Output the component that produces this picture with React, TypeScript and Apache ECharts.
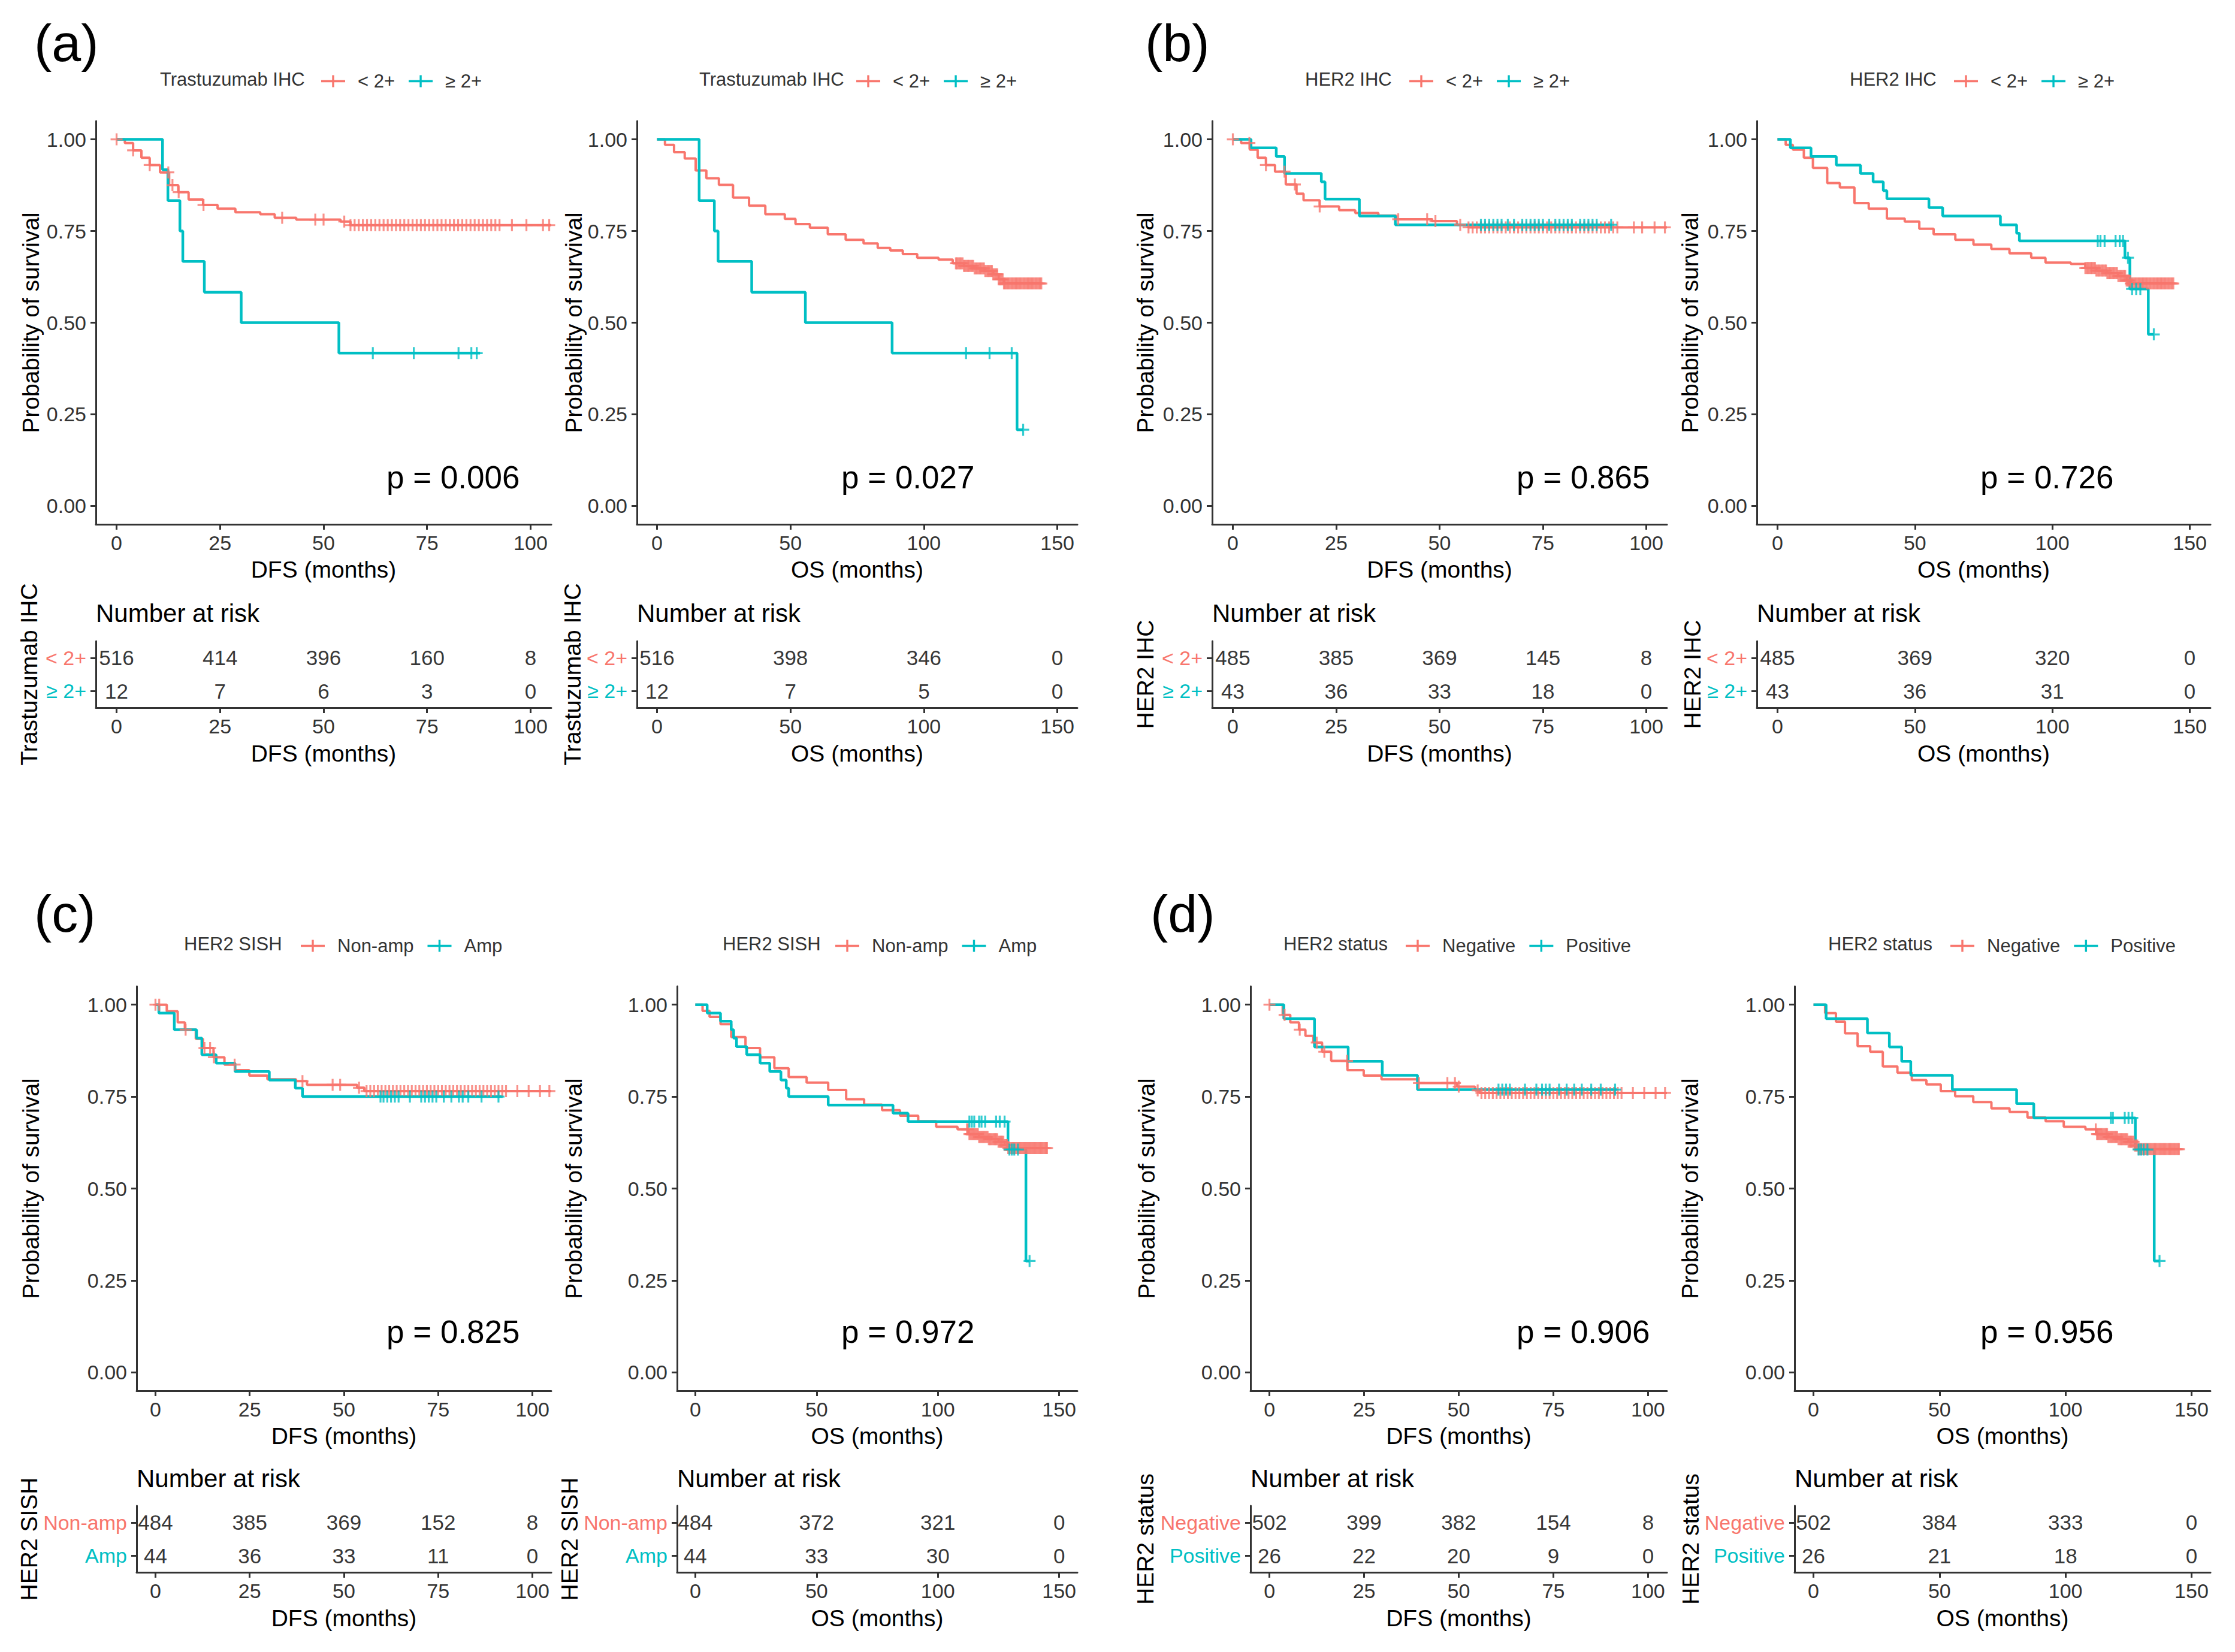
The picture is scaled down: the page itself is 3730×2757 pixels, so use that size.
import React, { useEffect, useRef } from 'react';
import * as echarts from 'echarts';

const RED = '#F8766D';
const CYAN = '#00BFC4';
const FONT = 'Liberation Sans, Arial, Helvetica, sans-serif';
const AXIS = '#333333';

const dfsTicks = [0, 25, 50, 75, 100];
const osTicks = [0, 50, 100, 150];
const yTicks = [0, 0.25, 0.5, 0.75, 1];

// ---------- group labels / titles ----------
const ihcGroups = ['< 2+', '≥ 2+'];
const sishGroups = ['Non-amp', 'Amp'];
const statusGroups = ['Negative', 'Positive'];
const legendTitles = ['Trastuzumab IHC', 'HER2 IHC', 'HER2 SISH', 'HER2 status'];
const pValues = ['p = 0.006', 'p = 0.027', 'p = 0.865', 'p = 0.726', 'p = 0.825', 'p = 0.972', 'p = 0.906', 'p = 0.956'];

// dense censoring of the large (red) group in the OS plots
const osLowCensTail = [112, 112.5, 113, 113.5, 114, 114.5, 115, 115.5, 116, 116.5, 117, 117.5, 118, 118.5, 119, 119.5, 120, 120.5, 121, 121.5, 122, 122.5, 123, 123.5, 124, 124.5, 125, 125.5, 126, 126.5, 127, 127.5, 128, 128.5, 129, 129.5, 130, 130.5, 131, 131.5, 132, 132.5, 133, 133.5, 134, 134.5, 135, 135.5, 136, 136.5, 137, 137.5, 138, 138.5, 139, 139.5, 140, 140.5, 141, 141.5, 142, 142.5, 143, 143.5, 144];

// ---------- (a) Trastuzumab IHC ----------
const aDfsLow = [[0, 1], [2, 0.99], [4, 0.97], [6, 0.95], [8, 0.93], [10.5, 0.91], [12.7, 0.875], [14.9, 0.856], [17.4, 0.836], [20.9, 0.821], [24.4, 0.811], [28.7, 0.801], [34.7, 0.796], [38.2, 0.786], [43.4, 0.781], [54.1, 0.776], [56.5, 0.766], [105, 0.766]];
const aDfsHigh = [[0, 1], [11.1, 0.917], [12.4, 0.833], [15.3, 0.75], [16, 0.667], [21.2, 0.583], [30.1, 0.5], [53.7, 0.417], [87.8, 0.417]];
const aDfsLowCens = [0, 4, 8, 12.5, 13.5, 15, 21, 40, 48, 50, 55, 56.5, 57.5, 58.5, 59.5, 60.5, 61.5, 62.5, 63.5, 64.5, 65.5, 66.5, 67.5, 68.5, 69.5, 70.5, 71.5, 72.5, 73.5, 74.5, 75.5, 76.5, 77.5, 78.5, 79.5, 80.5, 81.5, 82.5, 83.5, 84.5, 85.5, 86.5, 87.5, 88.5, 89.5, 90.5, 91.5, 92.5, 95.5, 99, 103, 104.5];
const aDfsHighCens = [61.9, 71.8, 82.6, 85.7, 87];
const aOsLow = [[0, 1], [3, 0.985], [6.4, 0.965], [10.4, 0.948], [14.5, 0.915], [18.5, 0.894], [23.2, 0.876], [28.5, 0.841], [34.5, 0.819], [40.6, 0.796], [47.9, 0.783], [51.9, 0.769], [57.3, 0.759], [64, 0.741], [70.7, 0.726], [77.4, 0.716], [82.7, 0.704], [87.4, 0.697], [92.1, 0.687], [97.5, 0.677], [105.5, 0.672], [110.8, 0.662], [115, 0.655], [119, 0.648], [123, 0.641], [126, 0.632], [128, 0.618], [130, 0.607], [144, 0.607]];
const aOsHigh = [[0, 1], [15.8, 0.833], [21.5, 0.75], [22.9, 0.667], [35.5, 0.583], [55.6, 0.5], [88.1, 0.417], [134.9, 0.208], [137.2, 0.208]];
const aOsLowCens = osLowCensTail;
const aOsHighCens = [115.8, 124.6, 132.9, 137.2];
const aDfsRiskLow = [516, 414, 396, 160, 8];
const aDfsRiskHigh = [12, 7, 6, 3, 0];
const aOsRiskLow = [516, 398, 346, 0];
const aOsRiskHigh = [12, 7, 5, 0];

// ---------- (b) HER2 IHC ----------
const bDfsLow = [[0, 1], [2, 0.99], [4.1, 0.972], [6, 0.95], [8, 0.93], [10.2, 0.912], [12.8, 0.877], [15.4, 0.852], [17.1, 0.834], [21, 0.817], [25.7, 0.807], [29.6, 0.799], [35.2, 0.792], [39.5, 0.782], [48.2, 0.777], [54.2, 0.767], [57, 0.76], [105, 0.76]];
const bDfsHigh = [[0, 1], [4.4, 0.977], [10.5, 0.953], [12.5, 0.907], [21.4, 0.884], [22.3, 0.837], [30.6, 0.791], [39.3, 0.767], [91.7, 0.767]];
const bDfsLowCens = [0, 4, 8, 12.5, 15, 21, 40, 47, 49, 55, 57, 58, 59, 60, 61, 62, 63, 64, 65, 66, 67, 68, 69, 70, 71, 72, 73, 74, 75, 76, 77, 78, 79, 80, 81, 82, 83, 84, 85, 86, 87, 88, 89, 90, 91, 92, 93, 97, 99, 102, 104.5];
const bDfsHighCens = [60, 61, 62, 63, 64, 65, 66.5, 68, 70, 71, 72, 73, 74, 75, 76.5, 78, 79, 80, 81, 82, 84, 85, 86, 87, 88, 91.5];
const bOsLow = [[0, 1], [3, 0.985], [5.6, 0.972], [9.6, 0.95], [12.9, 0.922], [18.1, 0.881], [22.7, 0.869], [28, 0.826], [33.2, 0.811], [39.8, 0.784], [46.3, 0.776], [51.6, 0.756], [56.8, 0.741], [64.7, 0.726], [71.3, 0.713], [77.8, 0.701], [84.4, 0.689], [92.3, 0.677], [97.5, 0.664], [106.7, 0.66], [112, 0.649], [116, 0.642], [120, 0.635], [124, 0.627], [127, 0.615], [128.5, 0.607], [144, 0.607]];
const bOsHigh = [[0, 1], [4.7, 0.977], [12.2, 0.953], [21.4, 0.93], [30.2, 0.907], [34.8, 0.884], [38.5, 0.86], [39.8, 0.838], [55.1, 0.814], [60.1, 0.791], [81.1, 0.767], [87, 0.744], [88, 0.723], [126.4, 0.677], [128.2, 0.592], [134.9, 0.468], [136.9, 0.468]];
const bOsLowCens = osLowCensTail;
const bOsHighCens = [116.5, 117.5, 119, 123, 124.5, 125.7, 127.5, 129, 130.5, 132, 136.9];
const bDfsRiskLow = [485, 385, 369, 145, 8];
const bDfsRiskHigh = [43, 36, 33, 18, 0];
const bOsRiskLow = [485, 369, 320, 0];
const bOsRiskHigh = [43, 36, 31, 0];

// ---------- (c) HER2 SISH ----------
const cDfsLow = [[0, 1], [3, 0.982], [5.9, 0.952], [7.8, 0.932], [10.7, 0.907], [12.6, 0.882], [15.4, 0.857], [18.3, 0.837], [21.1, 0.822], [24.9, 0.807], [29.7, 0.797], [37.3, 0.792], [40.2, 0.782], [53.5, 0.774], [55.4, 0.765], [105, 0.765]];
const cDfsHigh = [[0, 1], [0.9, 0.977], [5, 0.932], [10.9, 0.909], [12.3, 0.864], [16.1, 0.841], [21.1, 0.818], [30.2, 0.795], [37.1, 0.773], [39, 0.75], [92.1, 0.75]];
const cDfsLowCens = [0, 1, 8, 13, 14.5, 15.5, 21, 39, 47, 49, 54, 56, 57, 58, 59, 60, 61, 62, 63, 64, 65, 66, 67, 68, 69, 70, 71, 72, 73, 74, 75, 76, 77, 78, 79, 80, 81, 82, 83, 84, 85, 86, 87, 88, 89, 90, 91, 92, 93, 96, 99, 102, 104.5];
const cDfsHighCens = [59.7, 60.5, 61.5, 62.5, 63.5, 64.5, 67.5, 70.5, 71.5, 72.5, 73.5, 74.5, 76.5, 78.5, 80.5, 81.5, 83, 86.5, 91];
const cOsLow = [[0, 1], [3, 0.983], [5.9, 0.967], [10.4, 0.947], [14.8, 0.912], [20.7, 0.882], [26.7, 0.857], [32.6, 0.827], [38.5, 0.803], [45.9, 0.788], [54.8, 0.768], [62.2, 0.743], [69.6, 0.728], [77, 0.713], [84.4, 0.698], [91.9, 0.683], [99.3, 0.668], [108.1, 0.661], [112.6, 0.648], [117, 0.64], [121, 0.634], [125, 0.627], [127.5, 0.618], [129, 0.61], [145, 0.61]];
const cOsHigh = [[0, 1], [4.9, 0.977], [10.4, 0.955], [14.8, 0.932], [15.8, 0.909], [17, 0.886], [21.2, 0.864], [26.7, 0.841], [30.7, 0.818], [35.3, 0.795], [37.5, 0.773], [38.5, 0.75], [54.8, 0.727], [81.5, 0.705], [87.7, 0.682], [128.9, 0.606], [136.3, 0.303], [137.8, 0.303]];
const cOsLowCens = [...osLowCensTail, 144.5, 145];
const cOsHighCens = [113, 114, 115, 117, 118, 119.5, 124, 125.5, 127.5, 129.5, 130.5, 131.5, 133, 137.8];
const cDfsRiskLow = [484, 385, 369, 152, 8];
const cDfsRiskHigh = [44, 36, 33, 11, 0];
const cOsRiskLow = [484, 372, 321, 0];
const cOsRiskHigh = [44, 33, 30, 0];

// ---------- (d) HER2 status ----------
const dDfsLow = [[0, 1], [3.5, 0.972], [5.5, 0.952], [7.8, 0.932], [9.5, 0.915], [11.6, 0.897], [13.9, 0.872], [16.3, 0.847], [20.6, 0.822], [24.9, 0.807], [29.6, 0.797], [39.1, 0.787], [49.5, 0.777], [54.3, 0.767], [55.5, 0.76], [105, 0.76]];
const dDfsHigh = [[0, 1], [3.8, 0.962], [11.9, 0.885], [20.8, 0.846], [29.8, 0.808], [39.1, 0.769], [91.7, 0.769]];
const dDfsLowCens = [0, 4, 8, 12.5, 14.5, 20.5, 39.5, 47, 49, 50, 55, 56, 57, 58, 59, 60, 61, 62, 63, 64, 65, 66, 67, 68, 69, 70, 71, 72, 73, 74, 75, 76, 77, 78, 79, 80, 81, 82, 83, 84, 85, 86, 87, 88, 89, 90, 91, 92, 93, 96, 99, 102, 104.5];
const dDfsHighCens = [60.5, 61.5, 62.5, 63.5, 67.5, 70.5, 72, 73, 74, 76.5, 78.5, 80.5, 82.5, 85, 87.5, 91.3];
const dOsLow = [[0, 1], [4.6, 0.977], [8.9, 0.954], [12.5, 0.922], [17.5, 0.887], [22.5, 0.872], [27.5, 0.832], [33.3, 0.815], [39, 0.795], [44.8, 0.783], [50.5, 0.765], [56.2, 0.751], [63.4, 0.735], [70.6, 0.718], [77.8, 0.708], [84.9, 0.693], [92.1, 0.683], [99.3, 0.668], [107.9, 0.661], [112.2, 0.648], [117, 0.64], [121, 0.634], [125, 0.627], [127.5, 0.617], [129, 0.607], [145, 0.607]];
const dOsHigh = [[0, 1], [5, 0.962], [21.4, 0.923], [30.1, 0.885], [35, 0.846], [38.6, 0.808], [55.1, 0.769], [80.6, 0.731], [87.4, 0.692], [127.7, 0.606], [135.2, 0.303], [137.3, 0.303]];
const dOsLowCens = [...osLowCensTail, 144.5, 145];
const dOsHighCens = [118, 118.8, 123.5, 125, 126.5, 129, 130, 131, 132.5, 137.3];
const dDfsRiskLow = [502, 399, 382, 154, 8];
const dDfsRiskHigh = [26, 22, 20, 9, 0];
const dOsRiskLow = [502, 384, 333, 0];
const dOsRiskHigh = [26, 21, 18, 0];

// ---------- layout ----------
const ROWS = [
  { kmTop: 202, kmBottom: 875, tabTop: 1070, tabBottom: 1181, legendY: 132, letterY: 71, pY: 796, narY: 1023 },
  { kmTop: 1646, kmBottom: 2321, tabTop: 2513, tabBottom: 2624, legendY: 1575, letterY: 1524, pY: 2222, narY: 2467 },
];

const PANELS = [
  { row: 0, left: 160, right: 920, os: false, yTitleX: 51, tabTitleX: 48, legTitleX: 267, legX: 531, pX: 645, letter: '(a)', letterX: 57, title: legendTitles[0], groups: ihcGroups, low: aDfsLow, high: aDfsHigh, lowC: aDfsLowCens, highC: aDfsHighCens, rLow: aDfsRiskLow, rHigh: aDfsRiskHigh, p: pValues[0] },
  { row: 0, left: 1063, right: 1798, os: true, yTitleX: 957, tabTitleX: 966, legTitleX: 1167, legX: 1424, pX: 1404, title: legendTitles[0], groups: ihcGroups, low: aOsLow, high: aOsHigh, lowC: aOsLowCens, highC: aOsHighCens, rLow: aOsRiskLow, rHigh: aOsRiskHigh, p: pValues[1] },
  { row: 0, left: 2023, right: 2782, os: false, yTitleX: 1911, tabTitleX: 1911, legTitleX: 2178, legX: 2347, pX: 2531, letter: '(b)', letterX: 1911, title: legendTitles[1], groups: ihcGroups, low: bDfsLow, high: bDfsHigh, lowC: bDfsLowCens, highC: bDfsHighCens, rLow: bDfsRiskLow, rHigh: bDfsRiskHigh, p: pValues[2] },
  { row: 0, left: 2932, right: 3689, os: true, yTitleX: 2820, tabTitleX: 2834, legTitleX: 3087, legX: 3256, pX: 3305, title: legendTitles[1], groups: ihcGroups, low: bOsLow, high: bOsHigh, lowC: bOsLowCens, highC: bOsHighCens, rLow: bOsRiskLow, rHigh: bOsRiskHigh, p: pValues[3] },
  { row: 1, left: 228, right: 920, os: false, yTitleX: 51, tabTitleX: 48, legTitleX: 307, legX: 497, pX: 645, letter: '(c)', letterX: 57, title: legendTitles[2], groups: sishGroups, low: cDfsLow, high: cDfsHigh, lowC: cDfsLowCens, highC: cDfsHighCens, rLow: cDfsRiskLow, rHigh: cDfsRiskHigh, p: pValues[4] },
  { row: 1, left: 1130, right: 1798, os: true, yTitleX: 957, tabTitleX: 966, legTitleX: 1206, legX: 1389, pX: 1404, title: legendTitles[2], groups: sishGroups, low: cOsLow, high: cOsHigh, lowC: cOsLowCens, highC: cOsHighCens, rLow: cOsRiskLow, rHigh: cOsRiskHigh, p: pValues[5] },
  { row: 1, left: 2087, right: 2782, os: false, yTitleX: 1913, tabTitleX: 1911, legTitleX: 2142, legX: 2341, pX: 2531, letter: '(d)', letterX: 1920, title: legendTitles[3], groups: statusGroups, low: dDfsLow, high: dDfsHigh, lowC: dDfsLowCens, highC: dDfsHighCens, rLow: dDfsRiskLow, rHigh: dDfsRiskHigh, p: pValues[6] },
  { row: 1, left: 2995, right: 3689, os: true, yTitleX: 2820, tabTitleX: 2832, legTitleX: 3051, legX: 3250, pX: 3305, title: legendTitles[3], groups: statusGroups, low: dOsLow, high: dOsHigh, lowC: dOsLowCens, highC: dOsHighCens, rLow: dOsRiskLow, rHigh: dOsRiskHigh, p: pValues[7] },
];

const PLUS = 'path://M0,8.4L20,8.4L20,11.6L0,11.6Z M8.4,0L11.6,0L11.6,20L8.4,20Z';
const LEG_ICON = 'path://M0,8.3L40,8.3L40,11.7L0,11.7Z M18.3,0L21.7,0L21.7,20L18.3,20Z';

function survAt(steps: number[][], t: number) {
  let s = steps[0][1];
  for (const pt of steps) {
    if (pt[0] <= t) s = pt[1];
    else break;
  }
  return s;
}

function buildOption() {
  const grid: any[] = [];
  const xAxis: any[] = [];
  const yAxis: any[] = [];
  const series: any[] = [];
  const legend: any[] = [];
  const graphic: any[] = [];

  const axisLine = { show: true, onZero: false, lineStyle: { color: AXIS, width: 3 } };
  const axisTickBase = { show: true, length: 9, lineStyle: { color: AXIS, width: 3 } };

  PANELS.forEach((p, i) => {
    const r = ROWS[p.row];
    const width = p.right - p.left;
    const ticks = p.os ? osTicks : dfsTicks;
    const xmin = p.os ? -7.5 : -5;
    const xmax = p.os ? 157.5 : 105;
    const xName = p.os ? 'OS (months)' : 'DFS (months)';
    const kmG = 2 * i;
    const tbG = 2 * i + 1;

    grid.push({ left: p.left, top: r.kmTop, width, height: r.kmBottom - r.kmTop });
    grid.push({ left: p.left, top: r.tabTop, width, height: r.tabBottom - r.tabTop });

    const xCommon = {
      type: 'value', min: xmin, max: xmax,
      axisLine, splitLine: { show: false },
      axisTick: { ...axisTickBase, customValues: ticks },
      axisLabel: { customValues: ticks, color: '#333', fontSize: 34, margin: 14, fontFamily: FONT },
      name: xName, nameLocation: 'middle', nameGap: 56,
      nameTextStyle: { fontSize: 39, color: '#000', fontFamily: FONT },
    };
    xAxis.push({ ...xCommon, gridIndex: kmG });
    xAxis.push({ ...xCommon, gridIndex: tbG, nameGap: 57 });

    yAxis.push({
      type: 'value', gridIndex: kmG, min: -0.05, max: 1.05,
      axisLine, splitLine: { show: false },
      axisTick: { ...axisTickBase, customValues: yTicks },
      axisLabel: { customValues: yTicks, color: '#333', fontSize: 34, margin: 16, fontFamily: FONT, formatter: (v: number) => v.toFixed(2) },
      name: 'Probability of survival', nameLocation: 'middle', nameGap: p.left - p.yTitleX - 19.5,
      nameTextStyle: { fontSize: 39, color: '#000', fontFamily: FONT },
    });
    yAxis.push({
      type: 'category', gridIndex: tbG, data: p.groups, inverse: true,
      axisLine, splitLine: { show: false },
      axisTick: { ...axisTickBase, alignWithLabel: true },
      axisLabel: { fontSize: 34, margin: 16, fontFamily: FONT, color: (v: string) => (v === p.groups[0] ? RED : CYAN) },
      name: p.title, nameLocation: 'middle', nameGap: p.left - p.tabTitleX - 19.5,
      nameTextStyle: { fontSize: 39, color: '#000', fontFamily: FONT },
    });

    // KM curves
    series.push({ type: 'line', name: p.groups[0], xAxisIndex: kmG, yAxisIndex: kmG, data: p.low, step: 'end', symbol: 'none', lineStyle: { color: RED, width: 4 }, itemStyle: { color: RED }, z: 2 });
    series.push({ type: 'line', name: p.groups[1], xAxisIndex: kmG, yAxisIndex: kmG, data: p.high, step: 'end', symbol: 'none', lineStyle: { color: CYAN, width: 4.5 }, itemStyle: { color: CYAN }, z: 3 });
    series.push({ type: 'scatter', name: p.groups[0], xAxisIndex: kmG, yAxisIndex: kmG, symbol: PLUS, symbolSize: 20, data: p.lowC.map((t: number) => [t, survAt(p.low, t)]), itemStyle: { color: RED }, z: 4 });
    series.push({ type: 'scatter', name: p.groups[1], xAxisIndex: kmG, yAxisIndex: kmG, symbol: PLUS, symbolSize: 20, data: p.highC.map((t: number) => [t, survAt(p.high, t)]), itemStyle: { color: CYAN }, z: 5 });

    // risk table
    const tblLabel = { show: true, position: 'inside', color: '#000', fontSize: 35, fontFamily: FONT, formatter: (q: any) => String(q.value[2]) };
    series.push({ type: 'scatter', name: 'risk-' + i + '-a', xAxisIndex: tbG, yAxisIndex: tbG, symbolSize: 1, itemStyle: { color: 'rgba(0,0,0,0)' }, label: tblLabel, data: ticks.map((t, j) => [t, p.groups[0], p.rLow[j]]) });
    series.push({ type: 'scatter', name: 'risk-' + i + '-b', xAxisIndex: tbG, yAxisIndex: tbG, symbolSize: 1, itemStyle: { color: 'rgba(0,0,0,0)' }, label: tblLabel, data: ticks.map((t, j) => [t, p.groups[1], p.rHigh[j]]) });

    legend.push({
      left: p.legX, top: r.legendY - 17, orient: 'horizontal', icon: LEG_ICON,
      itemWidth: 40, itemHeight: 20, itemGap: 23, selectedMode: false,
      data: [p.groups[0], p.groups[1]],
      textStyle: { fontSize: 31, color: '#333', fontFamily: FONT, padding: [0, 0, 0, 16] },
    });

    graphic.push({ type: 'text', x: p.legTitleX, y: r.legendY, style: { text: p.title, fontSize: 31, fontFamily: FONT, fill: '#333', align: 'left', verticalAlign: 'middle' } });
    graphic.push({ type: 'text', x: p.pX, y: r.pY, style: { text: p.p, fontSize: 53, fontFamily: FONT, fill: '#000', align: 'left', verticalAlign: 'middle' } });
    graphic.push({ type: 'text', x: p.left, y: r.narY, style: { text: 'Number at risk', fontSize: 42, fontFamily: FONT, fill: '#000', align: 'left', verticalAlign: 'middle' } });
    if (p.letter) {
      graphic.push({ type: 'text', x: p.letterX, y: r.letterY, style: { text: p.letter, fontSize: 88, fontFamily: FONT, fill: '#000', align: 'left', verticalAlign: 'middle' } });
    }
  });

  return {
    animation: false,
    backgroundColor: '#ffffff',
    textStyle: { fontFamily: FONT },
    grid, xAxis, yAxis, series, legend, graphic,
  };
}

export default function App() {
  const ref = useRef<HTMLDivElement>(null);
  useEffect(() => {
    if (!ref.current) return;
    const chart = echarts.init(ref.current, null, { renderer: 'svg' });
    chart.setOption(buildOption() as any);
    return () => chart.dispose();
  }, []);
  return (
    <div
      ref={ref}
      style={{ position: 'absolute', left: 0, top: 0, width: 3730, height: 2757, background: '#fff' }}
    />
  );
}
